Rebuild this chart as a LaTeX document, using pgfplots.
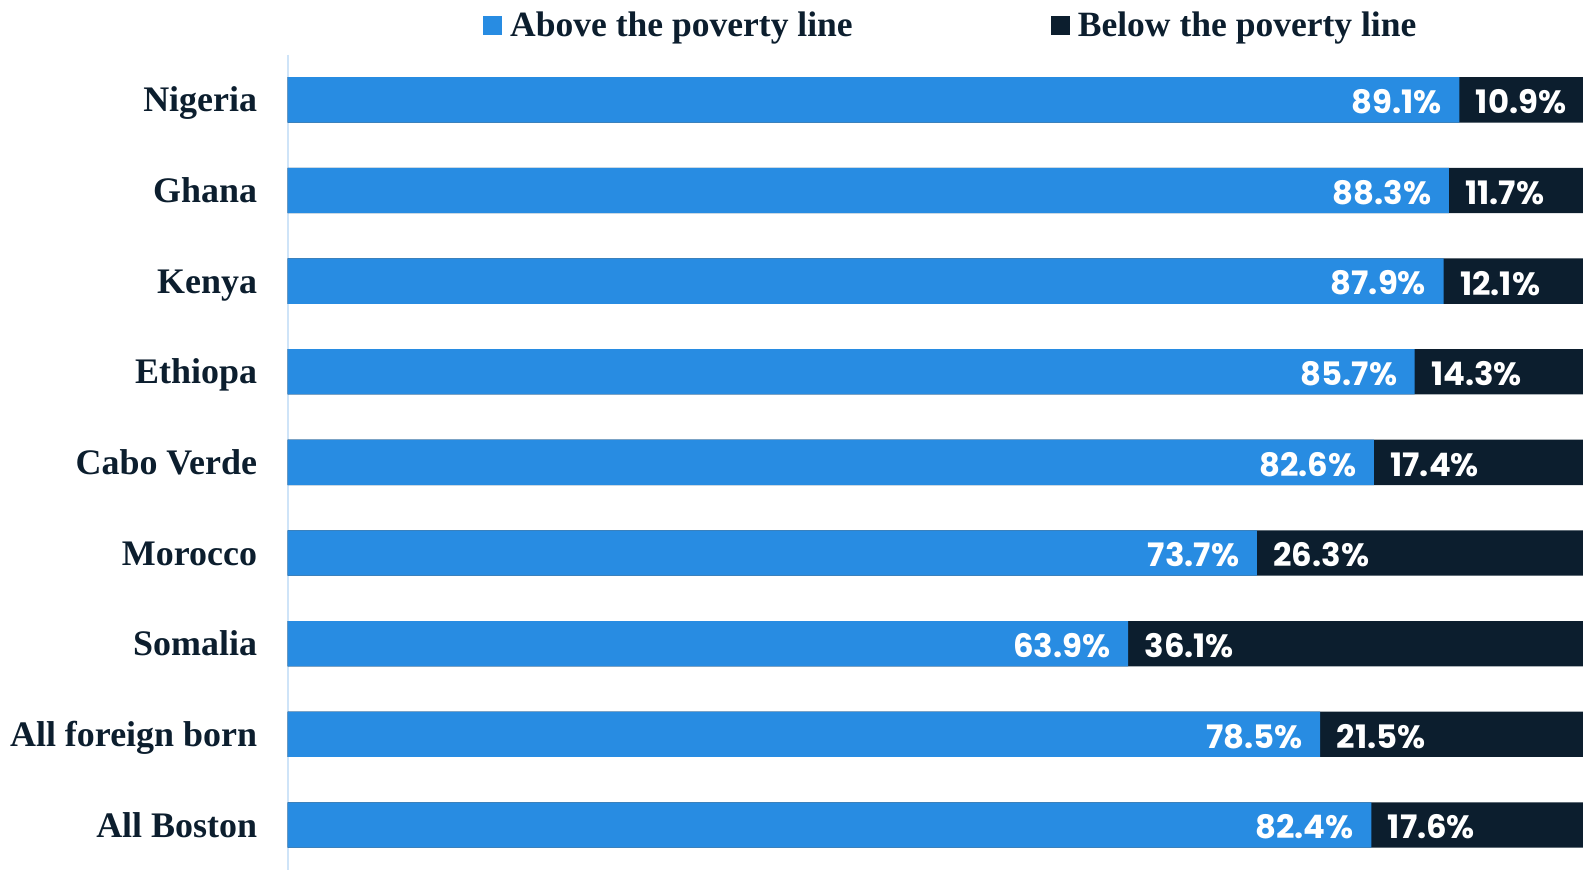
\documentclass[border=0pt]{standalone}
\usepackage{pgfplots}
\pgfplotsset{compat=1.18}
\usepackage{fontspec}
\setmainfont{Liberation Serif}
\newfontfamily\valfont{Poppins}
\definecolor{barblue}{HTML}{288CE2}
\definecolor{bardark}{HTML}{0C1E2E}
\definecolor{axisblue}{HTML}{CFE4F8}
\definecolor{txt}{HTML}{0C1E2E}
\begin{document}
\begin{tikzpicture}
\begin{axis}[
    scale only axis,
    width=641.5pt, height=404pt,
    xmin=0, xmax=98.5,
    ymin=-0.5, ymax=8.5,
    y dir=reverse,
    axis x line=none,
    axis y line=left,
    y axis line style={-, draw=axisblue, line width=1.2pt},
    ytick={0,...,8},
    yticklabels={Nigeria,Ghana,Kenya,Ethiopa,Cabo Verde,Morocco,Somalia,All foreign born,All Boston},
    major tick length=0pt,
    yticklabel style={font=\fontsize{17.8pt}{20pt}\selectfont\bfseries, text=txt, anchor=base east, inner sep=0pt, xshift=-15pt, yshift=-6pt},
    /pgf/number format/assume math mode=true,
    legend columns=2,
    legend style={draw=none, fill=none, at={(0.1504,1.0359)}, anchor=west, inner sep=0pt,
      font=\fontsize{17.6pt}{20pt}\selectfont\bfseries, text=txt,
      /tikz/every odd column/.append style={column sep=4pt},
      /tikz/every even column/.append style={column sep=98pt},
      nodes={inner sep=0pt}},
    legend image code/.code={\fill[#1] (0pt,-4.75pt) rectangle (9.5pt,4.75pt);},
    reverse legend,
  ]
  % dark bars: full width behind (cut off at the right edge)
  \addplot[xbar, bar width=0.5, bar shift=0pt, fill=bardark, draw=none] coordinates {
    (100,0) (100,1) (100,2) (100,3) (100,4) (100,5) (100,6) (100,7) (100,8)
  };
  % blue bars: above the poverty line
  \addplot[xbar, bar width=0.5, bar shift=0pt, fill=barblue, draw=none,
    nodes near coords={\pgfmathprintnumber[fixed,precision=1,fixed zerofill,assume math mode=true]{\pgfplotspointmeta}\%},
    point meta=x,
    every node near coord/.append style={anchor=east, xshift=-8.5pt, yshift=-1pt, text=white,
      font=\valfont\fontsize{16pt}{18pt}\selectfont\bfseries, inner sep=0pt}]
    coordinates {
    (89.1,0) (88.3,1) (87.9,2) (85.7,3) (82.6,4) (73.7,5) (63.9,6) (78.5,7) (82.4,8)
  };
  % labels of the dark part, placed at its start
  \addplot[only marks, mark=none, forget plot,
    nodes near coords={\pgfmathprintnumber[fixed,precision=1,fixed zerofill,assume math mode=true]{\pgfplotspointmeta}\%},
    point meta=explicit,
    every node near coord/.append style={anchor=west, xshift=8pt, yshift=-1pt, text=white,
      font=\valfont\fontsize{16pt}{18pt}\selectfont\bfseries, inner sep=0pt}]
    coordinates {
    (89.1,0) [10.9] (88.3,1) [11.7] (87.9,2) [12.1] (85.7,3) [14.3] (82.6,4) [17.4]
    (73.7,5) [26.3] (63.9,6) [36.1] (78.5,7) [21.5] (82.4,8) [17.6]
  };
  \legend{Below the poverty line,Above the poverty line}
\end{axis}
\path (-142.5pt,200pt) (0pt,431pt);
\end{tikzpicture}
\end{document}
